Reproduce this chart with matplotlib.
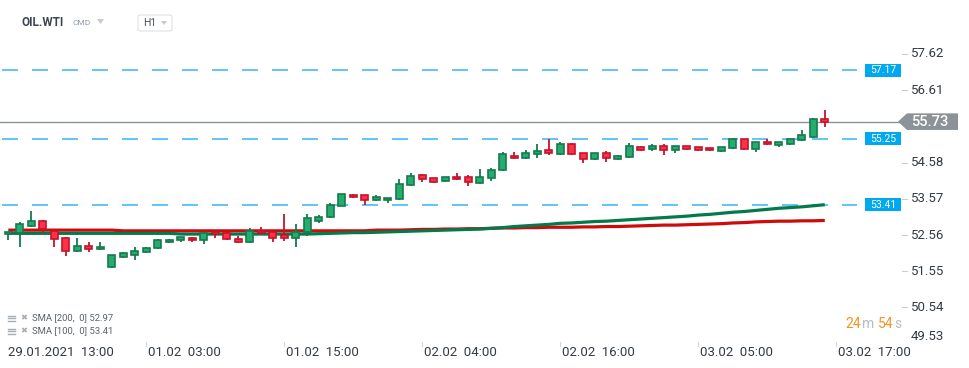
import matplotlib
matplotlib.use("Agg")
import matplotlib.pyplot as plt
import matplotlib.transforms as mtransforms
from matplotlib.patches import Polygon, Rectangle, FancyBboxPatch

plt.rcParams['font.family'] = ['Roboto', 'DejaVu Sans']
plt.rcParams['lines.scale_dashes'] = False

# ---------------- data ----------------
opens  = [52.58, 52.63, 52.81, 52.95, 52.68, 52.49, 52.11, 52.25, 52.16, 51.66,
          51.94, 52.00, 52.08, 52.19, 52.36, 52.42, 52.47, 52.42, 52.64, 52.61,
          52.44, 52.36, 52.67, 52.64, 52.56, 52.47, 52.64, 52.96, 53.06, 53.37,
          53.67, 53.67, 53.53, 53.53, 53.56, 53.95, 54.23, 54.15, 54.06, 54.18,
          54.18, 54.01, 54.15, 54.37, 54.76, 54.71, 54.82, 54.93, 54.82, 55.10,
          54.85, 54.68, 54.85, 54.68, 54.73, 55.01, 54.96, 55.04, 54.93, 55.04,
          55.01, 54.99, 54.90, 54.99, 55.24, 54.96, 55.15, 55.07, 55.10, 55.21,
          55.29, 55.80]
closes = [52.65, 52.86, 52.95, 52.72, 52.44, 52.11, 52.25, 52.18, 52.22, 52.00,
          52.05, 52.11, 52.19, 52.42, 52.42, 52.50, 52.42, 52.61, 52.58, 52.44,
          52.36, 52.67, 52.61, 52.47, 52.47, 52.64, 53.03, 53.06, 53.39, 53.70,
          53.62, 53.53, 53.62, 53.59, 53.98, 54.20, 54.12, 54.04, 54.18, 54.12,
          54.04, 54.18, 54.37, 54.82, 54.71, 54.85, 54.90, 54.85, 55.10, 54.82,
          54.68, 54.85, 54.71, 54.76, 55.04, 54.93, 55.04, 54.93, 55.04, 54.96,
          54.93, 54.93, 55.01, 55.24, 54.96, 55.15, 55.10, 55.15, 55.24, 55.35,
          55.80, 55.73]
highs  = [52.66, 52.92, 53.23, 52.98, 52.70, 52.50, 52.47, 52.36, 52.36, 52.01,
          52.08, 52.22, 52.22, 52.44, 52.44, 52.51, 52.50, 52.64, 52.68, 52.64,
          52.53, 52.75, 52.78, 52.66, 53.14, 52.86, 53.14, 53.12, 53.45, 53.71,
          53.70, 53.68, 53.67, 53.60, 54.12, 54.29, 54.26, 54.16, 54.19, 54.29,
          54.23, 54.40, 54.43, 54.87, 54.87, 54.93, 55.10, 55.24, 55.15, 55.13,
          54.86, 54.86, 54.90, 54.79, 55.13, 55.04, 55.10, 55.10, 55.05, 55.05,
          55.02, 55.00, 55.02, 55.26, 55.25, 55.16, 55.24, 55.16, 55.25, 55.49,
          55.82, 56.05]
lows   = [52.42, 52.24, 52.80, 52.62, 52.24, 51.99, 52.08, 52.08, 52.15, 51.65,
          51.91, 51.87, 52.07, 52.18, 52.33, 52.38, 52.38, 52.32, 52.49, 52.43,
          52.35, 52.35, 52.55, 52.36, 52.39, 52.24, 52.53, 52.91, 53.05, 53.36,
          53.60, 53.39, 53.52, 53.45, 53.55, 53.94, 54.04, 54.03, 54.04, 54.09,
          53.92, 54.00, 54.06, 54.36, 54.68, 54.70, 54.71, 54.79, 54.81, 54.81,
          54.57, 54.67, 54.60, 54.67, 54.72, 54.92, 54.90, 54.79, 54.85, 54.93,
          54.92, 54.90, 54.87, 54.97, 54.95, 54.87, 55.08, 55.01, 55.09, 55.18,
          55.27, 55.57]

sma200 = [52.70, 52.70, 52.70, 52.70, 52.70, 52.70, 52.70, 52.70, 52.70, 52.70,
          52.68, 52.68, 52.68, 52.68, 52.68, 52.68, 52.68, 52.68, 52.68, 52.68,
          52.68, 52.68, 52.68, 52.68, 52.68, 52.68, 52.68, 52.68, 52.68, 52.68,
          52.68, 52.68, 52.70, 52.70, 52.70, 52.71, 52.72, 52.72, 52.73, 52.73,
          52.74, 52.74, 52.75, 52.76, 52.76, 52.77, 52.77, 52.78, 52.78, 52.78,
          52.79, 52.79, 52.80, 52.80, 52.81, 52.82, 52.83, 52.84, 52.84, 52.85,
          52.86, 52.87, 52.88, 52.90, 52.91, 52.93, 52.94, 52.95, 52.95, 52.96,
          52.96, 52.97]
sma100 = [52.61, 52.61, 52.61, 52.61, 52.61, 52.61, 52.61, 52.61, 52.61, 52.61,
          52.61, 52.61, 52.61, 52.61, 52.61, 52.59, 52.59, 52.59, 52.59, 52.59,
          52.59, 52.59, 52.59, 52.59, 52.59, 52.59, 52.59, 52.60, 52.61, 52.62,
          52.63, 52.63, 52.64, 52.65, 52.66, 52.67, 52.68, 52.69, 52.70, 52.71,
          52.72, 52.73, 52.75, 52.77, 52.80, 52.82, 52.84, 52.86, 52.89, 52.90,
          52.92, 52.94, 52.95, 52.97, 52.99, 53.01, 53.03, 53.05, 53.07, 53.09,
          53.12, 53.14, 53.17, 53.20, 53.22, 53.25, 53.28, 53.31, 53.33, 53.35,
          53.38, 53.41]

level_lines = [57.17, 55.25, 53.41]
last_price = 55.73
ytick_values = [57.62, 56.61, 54.58, 53.57, 52.56, 51.55, 50.54]
ytick_bottom = 49.53
xtick_index = [0, 12, 24, 36, 48, 60, 72]
xtick_labels = ["29.01.2021  13:00", "01.02  03:00", "01.02  15:00", "02.02  04:00",
                "02.02  16:00", "03.02  05:00", "03.02  17:00"]
legend_lines = ["SMA [200,  0] 52.97", "SMA [100,  0] 53.41"]

# ---------------- figure ----------------
W, H = 970, 368
fig = plt.figure(figsize=(W / 100, H / 100), dpi=100)
fig.patch.set_facecolor('white')

def fx(px):
    return px / W

def fy(py):
    return 1 - py / H

ax = fig.add_axes([0, fy(345), fx(900), 345 / H])
ax.set_xlim(-0.722, 77.54)
ax.set_ylim(49.491, 59.128)
ax.axis('off')

GREEN_FILL = '#25ad70'
GREEN_EDGE = '#157a4e'
RED_FILL = '#ff3048'
RED_EDGE = '#c4142c'
BLUE = '#1aa9ef'
GRAY = '#8b9398'

# dashed level lines
for lv in level_lines:
    ax.plot([-0.55, 73.8], [lv, lv], color=BLUE, lw=1.2, dashes=(11.5, 10.1),
            alpha=0.8, zorder=1)

# last price line
ax.plot([-0.722, 77.54], [last_price, last_price], color=GRAY, lw=1.0, zorder=1)

# SMA lines
idx = list(range(len(opens)))
ax.plot(idx, sma200, color='#cf0a0a', lw=2.3, zorder=2, solid_capstyle='butt')
ax.plot(idx, sma100, color='#04794b', lw=2.3, zorder=2.1, solid_capstyle='butt')

# candles
for i, (o, c, h, l) in enumerate(zip(opens, closes, highs, lows)):
    up = c >= o
    fill = GREEN_FILL if up else RED_FILL
    edge = GREEN_EDGE if up else RED_EDGE
    ax.vlines(i, l, h, color=edge, lw=1.3, zorder=3)
    bottom = min(o, c)
    height = max(abs(c - o), 0.03)
    ax.bar(i, height, bottom=bottom, width=0.58, color=fill, edgecolor=edge,
           linewidth=1.2, zorder=4)

# ---- right axis: blended transform (x in figure px, y in data) ----
blend = mtransforms.blended_transform_factory(fig.transFigure, ax.transData)

for v in ytick_values:
    ax.plot([fx(902), fx(907)], [v, v], color='#c8cdd0', lw=0.8,
            transform=blend, clip_on=False)
    fig.text(fx(911), 0, f"{v:.2f}", transform=blend, fontsize=9.5,
             color='#333b42', va='center', ha='left').set_y(v)
fig.text(fx(911), fy(337), f"{ytick_bottom:.2f}", fontsize=9.5,
         color='#333b42', va='center', ha='left')

# level labels (blue boxes)
for lv in level_lines:
    ax.add_patch(Rectangle((fx(865), lv - 6.5 / 35.8), fx(36), 13 / 35.8,
                           transform=blend, facecolor='#00a8f0', edgecolor='none',
                           clip_on=False, zorder=5))
    t = fig.text(fx(883), 0, f"{lv:.2f}", transform=blend, fontsize=7.5,
                 color='white', va='center', ha='center', zorder=6)
    t.set_y(lv)

# last price tag
half = 8.3 / 35.8
tag = Polygon([(fx(898), last_price), (fx(907), last_price + half),
               (fx(958), last_price + half), (fx(958), last_price - half),
               (fx(907), last_price - half)], closed=True, transform=blend,
              facecolor=GRAY, edgecolor='none', clip_on=False, zorder=5)
ax.add_patch(tag)
t = fig.text(fx(911), 0, f"{last_price:.2f}", transform=blend, fontsize=10.5,
             color='white', va='center', ha='left', fontweight='medium', zorder=6)
t.set_y(last_price)

# ---- x axis labels ----
blendx = mtransforms.blended_transform_factory(ax.transData, fig.transFigure)
shift = mtransforms.ScaledTranslation(2 / 100, 0, fig.dpi_scale_trans)
for k, (xi, lab) in enumerate(zip(xtick_index, xtick_labels)):
    if k > 0:
        ax.plot([xi, xi], [fy(342), fy(346)], color='#d4d8db', lw=0.8,
                transform=blendx, clip_on=False)
        tr = blendx + shift
    else:
        tr = blendx
    txt = fig.text(0, fy(352), lab, transform=tr, fontsize=9.5, color='#333b42',
                   va='center', ha='left')
    txt.set_x(xi)

# ---- header ----
fig.text(fx(22), fy(22), "OIL.WTI", fontsize=8.5, fontweight='bold',
         color='#3d4650', va='center', ha='left')
fig.text(fx(73), fy(23), "CMD", fontsize=6, color='#8d9aa6', va='center', ha='left')
fig.patches.append(Polygon([(fx(97), fy(19)), (fx(104), fy(19)), (fx(100.5), fy(24))],
                           closed=True, transform=fig.transFigure,
                           facecolor='#c5cbd0', edgecolor='none'))
fig.patches.append(FancyBboxPatch((fx(138), fy(31)), fx(34), 16 / H,
                                  boxstyle="round,pad=0,rounding_size=0.004",
                                  transform=fig.transFigure, facecolor='white',
                                  edgecolor='#dde1e4', lw=0.8))
fig.text(fx(143), fy(23), "H1", fontsize=7.5, color='#4a535b', va='center', ha='left')
fig.patches.append(Polygon([(fx(161), fy(21)), (fx(167), fy(21)), (fx(164), fy(25))],
                           closed=True, transform=fig.transFigure,
                           facecolor='#c5cbd0', edgecolor='none'))

# ---- legend (bottom left) ----
for k, line in enumerate(legend_lines):
    yy = 318 + 13 * k
    for dy in (-2.5, 0, 2.5):
        fig.add_artist(plt.Line2D([fx(8), fx(15)], [fy(yy + dy), fy(yy + dy)],
                                  color='#a5adb3', lw=1.0, transform=fig.transFigure))
    fig.text(fx(23.5), fy(yy), "\u2716", fontsize=6, color='#a5adb3',
             va='center', ha='center', family=['DejaVu Sans'])
    fig.text(fx(32), fy(yy), line, fontsize=6.8, color='#5a636b',
             va='center', ha='left')

# ---- timer ----
fig.text(fx(845), fy(324), "24", fontsize=10, color='#f7931e', va='center', ha='left')
fig.text(fx(862), fy(324), "m", fontsize=10, color='#b9bec2', va='center', ha='left')
fig.text(fx(878), fy(324), "54", fontsize=10, color='#f7931e', va='center', ha='left')
fig.text(fx(894.5), fy(324), "s", fontsize=10, color='#b9bec2', va='center', ha='left')

fig.savefig("out.png", dpi=100, facecolor='white')
